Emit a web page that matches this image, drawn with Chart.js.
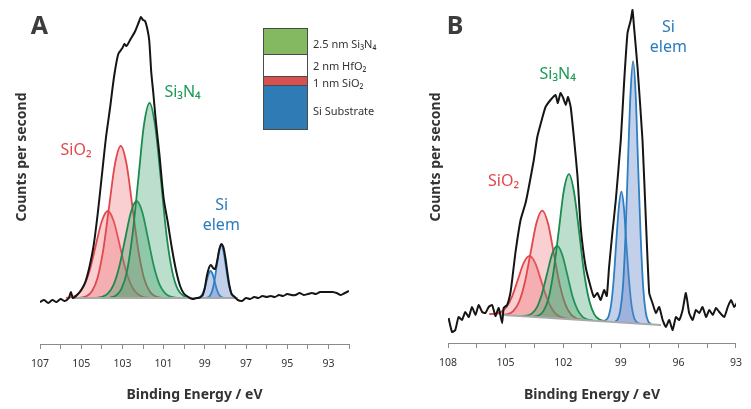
<!DOCTYPE html>
<html><head><meta charset="utf-8">
<script src="https://cdn.jsdelivr.net/npm/chart.js@4.4.1/dist/chart.umd.min.js"></script>
<style>
html,body{margin:0;padding:0;background:#fff;}
#wrap{position:relative;width:751px;height:409px;overflow:hidden;font-family:"Noto Sans","Open Sans",sans-serif;}
canvas{position:absolute;top:0;}
#ca{left:0;} #cb{left:375px;}
#stack{position:absolute;left:263px;top:28px;width:43px;border:1px solid #4a4a4a;}
#stack div{border-bottom:1px solid #4a4a4a;}
#stack div:last-child{border-bottom:none;}
.lay{position:absolute;left:313px;font-size:11px;color:#333;transform:translateY(-50%);white-space:nowrap;}
</style></head>
<body><div id="wrap">
<canvas id="ca" width="375" height="409"></canvas>
<canvas id="cb" width="376" height="409"></canvas>
<div id="stack">
  <div style="height:25px;background:#84b861"></div>
  <div style="height:21px;background:#ffffff"></div>
  <div style="height:8px;background:#d9514f"></div>
  <div style="height:43px;background:#2f7bb6"></div>
</div>
<div class="lay" style="top:43px">2.5 nm Si₃N₄</div>
<div class="lay" style="top:65px">2 nm HfO₂</div>
<div class="lay" style="top:82px">1 nm SiO₂</div>
<div class="lay" style="top:110px">Si Substrate</div>
</div>
<script>
// ---------------- DATA: panel A (counts above background, arbitrary units) ----------------
const tickLabelsA = [107,105,103,101,99,97,95,93];
const envA_E = [107.0,106.8,106.6,106.4,106.2,106.0,105.8,105.6,
  105.5,105.4,
  105.2,105.0,104.8,104.6,104.4,104.2,104.0,103.8,103.6,103.4,103.2,103.0,
  102.9,102.8,102.6,102.4,102.2,102.1,102.0,101.9,101.8,101.7,101.6,101.5,101.4,101.3,101.2,
  101.0,100.8,100.6,100.4,100.2,100.0,99.8,99.6,99.4,
  99.3,99.2,99.1,99.0,98.9,98.8,98.7,98.6,98.5,98.4,98.3,98.2,98.1,98.0,97.9,97.8,97.7,97.6,97.5,97.4,
  97.2,97.0,96.8,96.6,96.4,96.2,96.0,95.8,95.6,95.4,95.2,95.0,94.8,94.6,94.4,94.2,94.0,93.8,93.6,93.4,93.2,93.0,92.8,92.6,92.4,92.2,92.0];
const envA_cps = [-4,-2,-5,-2,-4,-1,-3,0,
  6,0,
  3,8,16,31,52,84,122,160,190,222,244,250,
  254,252,259,266,276,281,278,277,270,258,226,205,182,162,143,
  100,76,50,28,12,4,1,-1,0,
  0,1,3,10,22,30,33,30,29,37,48,54,51,40,25,12,4,2,0,-2,
  -3,0,-1,1,0,2,1,2,1,3,2,4,3,3,5,3,4,5,4,6,6,6,6,5,3,5,7];
const bgA_E = [105.46, 97.4];
const bgA_cps = [0, 0];
const sio2a1_E = [105.74,105.45,105.16,104.87,104.58,104.29,104.00,103.71,103.42,103.13,102.84,102.55,102.26,101.97,101.68];
const sio2a1_cps = [0.2,1.0,3.8,11.8,28.2,52.8,76.8,87,76.8,52.8,28.2,11.8,3.8,1.0,0.2];
const sio2a2_E = [105.04,104.76,104.48,104.20,103.92,103.64,103.36,103.08,102.80,102.52,102.24,101.96,101.68,101.40,101.12];
const sio2a2_cps = [0.3,1.7,6.7,20.6,49.4,92.2,134.1,152,134.1,92.2,49.4,20.6,6.7,1.7,0.3];
const sinA1_E = [104.27,103.99,103.71,103.43,103.15,102.87,102.59,102.31,102.03,101.75,101.47,101.19,100.91,100.63,100.35];
const sinA1_cps = [0.2,1.1,4.3,13.1,31.5,58.8,85.6,97,85.6,58.8,31.5,13.1,4.3,1.1,0.2];
const sinA2_E = [103.61,103.33,103.06,102.78,102.51,102.23,101.96,101.68,101.41,101.13,100.86,100.58,100.31,100.03,99.76];
const sinA2_cps = [0.4,2.2,8.6,26.4,63.3,118.3,172.1,195,172.1,118.3,63.3,26.4,8.6,2.2,0.4];
const siA1_E = [99.42,99.32,99.22,99.12,99.02,98.92,98.82,98.72,98.62,98.52,98.42,98.32,98.22,98.12,98.02];
const siA1_cps = [0.1,0.3,1.2,3.7,8.8,16.4,23.8,27,23.8,16.4,8.8,3.7,1.2,0.3,0.1];
const siA2_E = [98.97,98.86,98.75,98.64,98.53,98.42,98.31,98.20,98.09,97.98,97.87,97.76,97.65,97.54,97.43];
const siA2_cps = [0.1,0.6,2.3,7.2,17.2,32.1,46.8,53,46.8,32.1,17.2,7.2,2.3,0.6,0.1];

// ---------------- DATA: panel B (absolute counts, arbitrary units) ----------------
const tickLabelsB = [108,105,102,99,96,93];
const envB_E = [107.97,107.79,107.62,107.45,107.27,107.10,106.92,106.75,106.57,106.40,
  106.22,106.05,105.88,105.70,105.53,105.36,105.18,105.10,104.92,104.75,
  104.66,104.49,104.22,103.96,103.79,103.53,103.35,103.09,102.92,102.66,
  102.40,102.28,102.14,102.00,101.87,101.75,101.61,101.44,101.26,101.09,
  100.83,100.57,100.40,100.22,100.05,99.87,99.73,99.61,99.44,99.26,
  99.00,98.83,98.65,98.48,98.39,98.31,98.13,97.87,97.70,97.52,
  97.35,97.17,97.00,96.82,96.65,96.48,96.30,96.13,95.96,95.78,
  95.61,95.44,95.26,95.09,94.91,94.74,94.56,94.39,94.21,94.04,
  93.87,93.61,93.43,93.26,93.09,92.96];
const envB_cps = [25,11,13,26,23,31,26,36,28,38,
  31,30,36,38,27,35,20,35,38,50,
  63,90,123,140,156,183,206,225,236,243,
  248,240,250,245,238,246,236,205,168,116,
  76,56,46,50,43,53,47,76,110,143,
  203,260,310,323,333,316,276,203,126,50,
  40,30,36,23,16,23,13,26,23,33,
  50,30,23,33,30,36,26,33,28,35,
  31,26,36,43,36,40];
const bgB_E = [105.10, 96.91];
const bgB_cps = [28.0, 18.0];
const bgFillB_E = [106.5, 96.0];
const bgFillB_cps = [29.7, 16.9];
const sio2b1_E = [105.85,105.55,105.25,104.95,104.65,104.35,104.05,103.75,103.45,103.15,102.85,102.55,102.25,101.95,101.65];
const sio2b1_cps = [29.0,29.2,30.9,36.0,47.2,63.9,80.3,87.1,79.6,62.4,45.0,33.1,27.2,24.9,23.9];
const sio2b2_E = [105.19,104.89,104.59,104.29,103.99,103.69,103.39,103.09,102.79,102.49,102.19,101.89,101.59,101.29,100.99];
const sio2b2_cps = [28.3,28.9,32.1,41.5,61.3,91.1,120.2,132.3,119.5,89.6,59.1,38.6,28.4,24.5,23.2];
const sinB1_E = [104.17,103.90,103.64,103.37,103.11,102.84,102.58,102.31,102.05,101.78,101.52,101.25,100.99,100.72,100.46];
const sinB1_cps = [27.1,27.3,29.4,35.7,49.1,69.2,88.9,97.1,88.3,67.9,47.1,33.1,26.2,23.5,22.5];
const sinB2_E = [103.56,103.29,103.03,102.76,102.50,102.23,101.97,101.70,101.44,101.17,100.91,100.64,100.38,100.11,99.85];
const sinB2_cps = [26.4,27.4,31.9,44.7,71.9,112.4,152.2,168.8,151.5,111.1,70.0,42.2,28.6,23.5,21.9];
const siB1_E = [99.90,99.77,99.63,99.50,99.37,99.24,99.10,98.97,98.84,98.71,98.57,98.44,98.31,98.18,98.04];
const siB1_cps = [22.0,23.0,27.0,38.9,63.5,100.1,136.1,151.3,135.8,99.5,62.5,37.6,25.4,21.1,19.7];
const siB2_E = [99.29,99.16,99.03,98.89,98.76,98.63,98.49,98.36,98.23,98.10,97.96,97.83,97.70,97.57,97.43];
const siB2_cps = [21.5,23.6,32.1,55.8,105.4,179.0,251.1,281.8,250.8,178.6,104.4,54.5,30.5,21.7,19.2];

// ---------------- styling ----------------
const FONT = '"Noto Sans", "Open Sans", sans-serif';
const RED = {line:'#e2474c', fill:'rgba(238,110,115,0.33)'};
const GREEN = {line:'#1b8a4f', fill:'rgba(60,158,105,0.34)'};
const BLUE = {line:'#2e7fc2', fill:'rgba(96,132,200,0.38)'};
const TXT = {red:'#e2474c', green:'#1a9a52', blue:'#2a7bbb'};

const pts = (xs, ys) => xs.map((x, i) => ({x, y: ys[i]}));

function comp(xs, ys, c, fill){
  return {data: pts(xs, ys), borderColor: c.line, backgroundColor: c.fill, borderWidth: 1.8,
    fill: fill, cubicInterpolationMode: 'monotone', pointRadius: 0};
}

const textPlugin = {
  id: 'texts',
  afterDraw(chart, args, o){
    const ctx = chart.ctx, xs = chart.scales.x, ys = chart.scales.y;
    ctx.save();
    ctx.textAlign = 'center'; ctx.textBaseline = 'middle';
    o.labels.forEach(l => {
      ctx.font = '16px ' + FONT; ctx.fillStyle = l.color;
      ctx.fillText(l.text, xs.getPixelForValue(l.x), ys.getPixelForValue(l.y));
    });
    ctx.font = 'bold 25px ' + FONT; ctx.fillStyle = '#3c3c3c';
    ctx.fillText(o.letter, o.letterX, o.letterY);
    ctx.translate(o.yTitleX, o.yTitleY); ctx.rotate(-Math.PI/2);
    ctx.font = 'bold 14px ' + FONT; ctx.fillStyle = '#333';
    ctx.fillText('Counts per second', 0, 0);
    ctx.restore();
  }
};

function xScale(min, max, step, labels, h){
  return {type:'linear', reverse:true, min, max,
    afterFit(s){ s.height = h; },
    border:{color:'#8a8a8a', width:1},
    grid:{drawOnChartArea:false, tickLength:5, color:'#8a8a8a', lineWidth:1},
    ticks:{stepSize:step, autoSkip:false, maxRotation:0, color:'#333', padding:9,
      font:{family:FONT, size:10.5},
      callback:(v) => labels.some(t => Math.abs(t - v) < 1e-6) ? String(Math.round(v)) : ''},
    title:{display:true, text:'Binding Energy / eV', color:'#333',
      font:{family:FONT, size:14, weight:'bold'}, padding:{top:6, bottom:6}}
  };
}

new Chart(document.getElementById('ca'), {
  type:'line',
  data:{datasets:[
    {data: pts(envA_E, envA_cps), borderColor:'#151515', borderWidth:2, fill:false, tension:0.25, pointRadius:0},
    {data: pts(bgA_E, bgA_cps), borderColor:'#a9a9a9', borderWidth:2, fill:false, pointRadius:0},
    comp(sinA2_E, sinA2_cps, GREEN, 'origin'),
    comp(sinA1_E, sinA1_cps, GREEN, 'origin'),
    comp(sio2a2_E, sio2a2_cps, RED, 'origin'),
    comp(sio2a1_E, sio2a1_cps, RED, 'origin'),
    comp(siA2_E, siA2_cps, BLUE, 'origin'),
    comp(siA1_E, siA1_cps, BLUE, 'origin')
  ]},
  options:{
    responsive:false, animation:false,
    layout:{padding:{left:40, right:26, top:15, bottom:0}},
    plugins:{legend:{display:false}, tooltip:{enabled:false},
      texts:{letter:'A', letterX:39.5, letterY:27, yTitleX:22, yTitleY:157,
        labels:[
          {text:'SiO₂', x:105.25, y:148, color:TXT.red},
          {text:'Si₃N₄', x:100.08, y:205.5, color:TXT.green},
          {text:'Si', x:98.18, y:93, color:TXT.blue},
          {text:'elem', x:98.2, y:73, color:TXT.blue}
        ]}},
    scales:{
      x: xScale(92, 107, 1, tickLabelsA, 65),
      y: {display:false, min:-46, max:283}
    }
  },
  plugins:[textPlugin]
});

new Chart(document.getElementById('cb'), {
  type:'line',
  data:{datasets:[
    {data: pts(envB_E, envB_cps), borderColor:'#151515', borderWidth:2, fill:false, tension:0.15, pointRadius:0},
    {data: pts(bgFillB_E, bgFillB_cps), borderColor:'rgba(0,0,0,0)', borderWidth:0, fill:false, pointRadius:0},
    {data: pts(bgB_E, bgB_cps), borderColor:'#a9a9a9', borderWidth:2, fill:false, pointRadius:0},
    comp(sinB2_E, sinB2_cps, GREEN, 1),
    comp(sinB1_E, sinB1_cps, GREEN, 1),
    comp(sio2b2_E, sio2b2_cps, RED, 1),
    comp(sio2b1_E, sio2b1_cps, RED, 1),
    comp(siB2_E, siB2_cps, BLUE, 1),
    comp(siB1_E, siB1_cps, BLUE, 1)
  ]},
  options:{
    responsive:false, animation:false,
    layout:{padding:{left:73, right:15, top:8, bottom:0}},
    plugins:{legend:{display:false}, tooltip:{enabled:false},
      texts:{letter:'B', letterX:80, letterY:27, yTitleX:61, yTitleY:157,
        labels:[
          {text:'SiO₂', x:105.11, y:161.5, color:TXT.red},
          {text:'Si₃N₄', x:102.29, y:268.5, color:TXT.green},
          {text:'Si', x:96.52, y:315.5, color:TXT.blue},
          {text:'elem', x:96.52, y:295.5, color:TXT.blue}
        ]}},
    scales:{
      x: xScale(93, 108, 1.5, tickLabelsB, 66),
      y: {display:false, min:0, max:335}
    }
  },
  plugins:[textPlugin]
});
</script>
</body></html>
